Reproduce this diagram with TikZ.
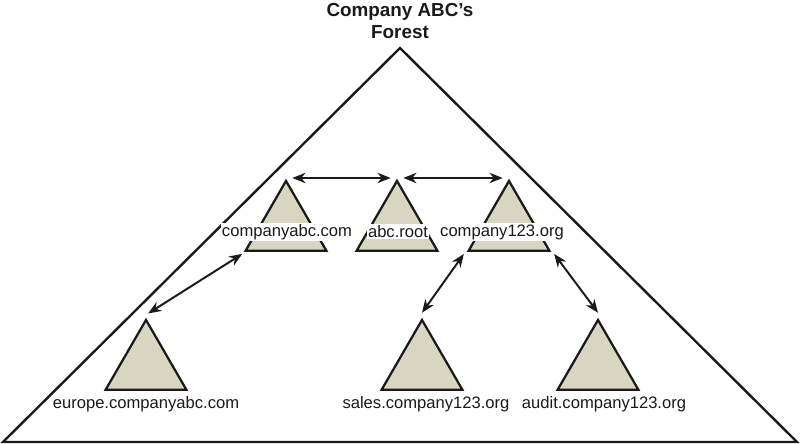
\documentclass[tikz,border=0pt]{standalone}
\usepackage{fontspec}
\setmainfont{Liberation Sans}
\usetikzlibrary{arrows.meta, shapes.geometric}
\definecolor{cInk}{HTML}{1A1A1A}
\definecolor{cDom}{HTML}{D8D5C0}
\tikzset{
  dom/.style={isosceles triangle, isosceles triangle stretches, shape border rotate=90,
              draw=cInk, fill=cDom, line width=1.6pt, inner sep=0pt, anchor=apex,
              minimum width=57.4pt, minimum height=49.6pt},
  lbl/.style={font=\fontsize{11.8}{14}\selectfont, text=cInk, inner sep=1pt, fill=white},
  ttl/.style={font=\fontsize{13.4}{15.6}\selectfont\bfseries, text=cInk, align=center},
  forest/.style={draw=cInk, line width=1.7pt, line join=miter},
  link/.style={{Stealth[length=3.3mm, width=2.6mm]}-{Stealth[length=3.3mm, width=2.6mm]},
               line width=1.4pt, draw=cInk},
}

\begin{document}
\begin{tikzpicture}[x=0.025cm, y=-0.025cm]
  \useasboundingbox (0,0) rectangle (800,444);

  % ---- the forest
  \draw[forest] (400,48) -- (797,442) -- (3,442) -- cycle;
  \node[ttl] (title) at (400,21) {Company ABC’s\\Forest};

  % ---- domain trees
  \node[dom] (abccom) at (286,178) {};
  \node[dom] (abcroot) at (397,178) {};
  \node[dom] (org123) at (509,178) {};
  \node[dom] (europe) at (146,317) {};
  \node[dom] (sales) at (422,317) {};
  \node[dom] (audit) at (598,317) {};

  % ---- labels
  \node[lbl] (abccomlbl) at (287,232) {companyabc.com};
  \node[lbl] (abcrootlbl) at (398,232) {abc.root};
  \node[lbl] (org123lbl) at (502,232) {company123.org};
  \node[lbl, fill=none] (europelbl) at (146,404) {europe.companyabc.com};
  \node[lbl, fill=none] (saleslbl) at (426,404) {sales.company123.org};
  \node[lbl, fill=none] (auditlbl) at (604,404) {audit.company123.org};

  % ---- trust links
  \draw[link] ([xshift=4.5pt]abccom.apex) -- ([xshift=-4.5pt]abcroot.apex);
  \draw[link] ([xshift=4.5pt]abcroot.apex) -- ([xshift=-4.5pt]org123.apex);
  \draw[link] ([shift={(-1pt,-1.5pt)}]abccom.left corner) -- ([shift={(1.5pt,2.5pt)}]europe.apex);
  \draw[link] ([shift={(-2pt,-1.5pt)}]org123.left corner) -- ([yshift=3pt]sales.apex);
  \draw[link] ([shift={(2pt,-1.5pt)}]org123.right corner) -- ([yshift=3pt]audit.apex);
\end{tikzpicture}
\end{document}
